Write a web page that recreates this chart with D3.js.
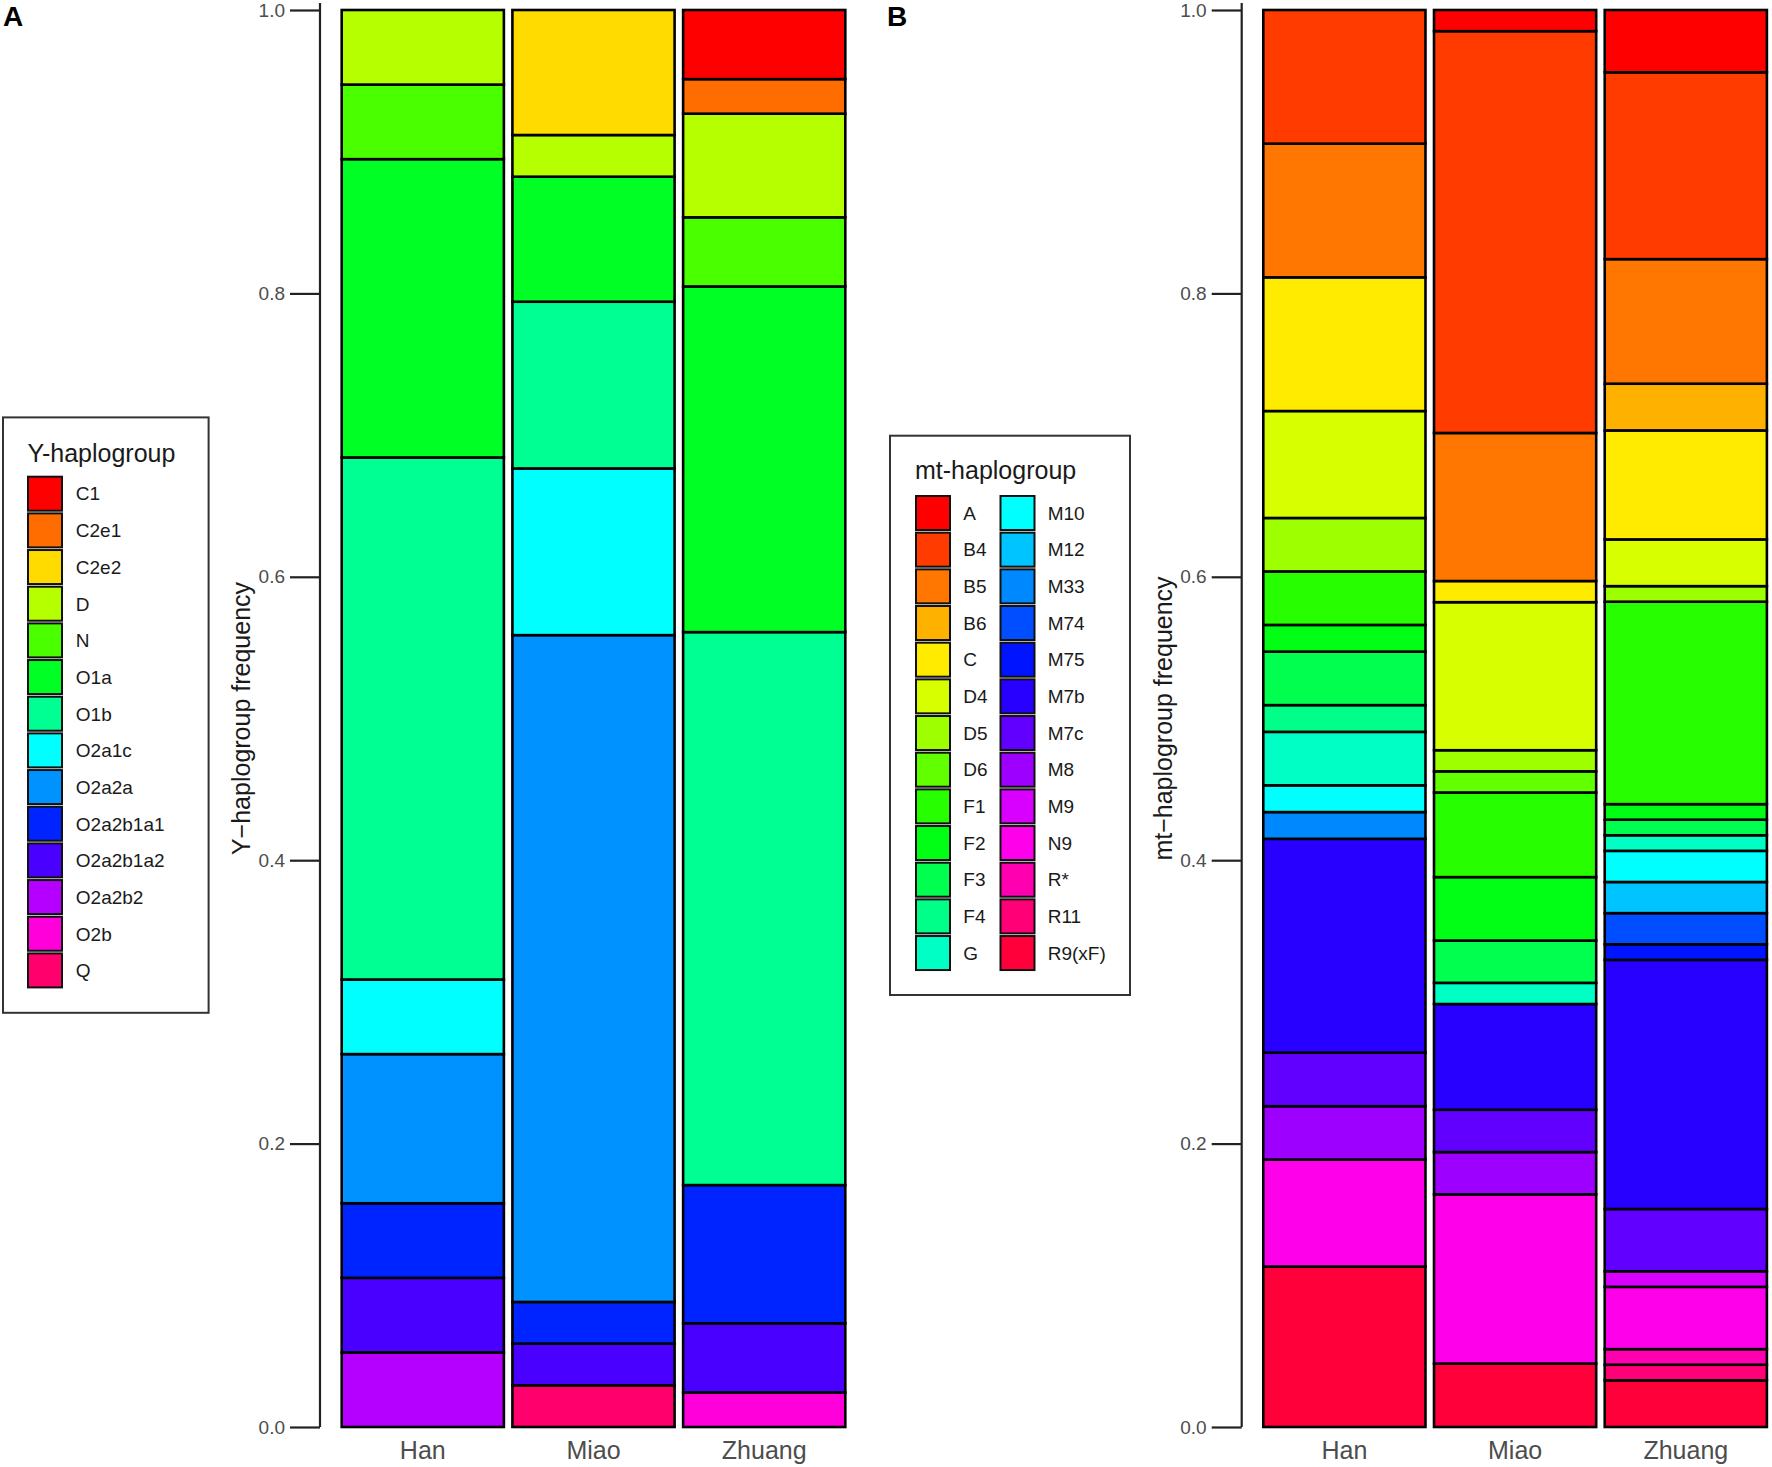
<!DOCTYPE html>
<html>
<head>
<meta charset="utf-8">
<script src="https://cdn.jsdelivr.net/npm/d3@7"></script>
<style>
  html, body { margin: 0; padding: 0; background: #fff; }
  svg { display: block; font-family: "Liberation Sans", Arial, sans-serif; }
</style>
</head>
<body>
<svg id="chart" width="1772" height="1467"></svg>
<script>
// ---------------- DATA ----------------
const populations = ["Han", "Miao", "Zhuang"];

const yGroups = ["C1","C2e1","C2e2","D","N","O1a","O1b","O2a1c","O2a2a","O2a2b1a1","O2a2b1a2","O2a2b2","O2b","Q"];
const yHan    = [0,0,0,1,1,4,7,1,2,1,1,1,0,0];
const yMiao   = [0,0,3,1,0,3,4,4,16,1,1,0,0,1];
const yZhuang = [2,1,0,3,2,10,16,0,0,4,2,0,1,0];

const mtGroups = ["A","B4","B5","B6","C","D4","D5","D6","F1","F2","F3","F4","G",
                  "M10","M12","M33","M74","M75","M7b","M7c","M8","M9","N9","R*","R11","R9(xF)"];
const mtHan    = [0,5,5,0,5,4,2,0,2,1,2,1,2, 1,0,1,0,0,8,2,2,0,4,0,0,6];
const mtMiao   = [1,19,7,0,1,7,1,1,4,3,2,0,1, 0,0,0,0,0,5,2,2,0,8,0,0,3];
const mtZhuang = [4,12,8,3,7,3,1,0,13,1,1,0,1, 2,2,0,2,1,16,4,0,1,4,1,1,3];

const yTicks = [0, 0.2, 0.4, 0.6, 0.8, 1.0];

// ---------------- DRAW ----------------
const svg = d3.select("#chart");
const rainbow = n => d3.range(n).map(i => d3.hsl(i * 360 / n, 1, 0.5).formatHex());

function panel(opts) {
  const { groups, series, axisX, barX0, barX1, title, letter, letterX } = opts;
  const colors = rainbow(groups.length);
  const color = d3.scaleOrdinal().domain(groups).range(colors);

  const rows = populations.map((p, i) => {
    const o = { pop: p };
    groups.forEach((g, j) => o[g] = series[i][j]);
    return o;
  });

  const y = d3.scaleLinear().domain([0, 1]).range([1427, 10]);
  const x = d3.scaleBand().domain(populations).range([barX0, barX1])
    .paddingInner(0.05).paddingOuter(0);

  // stack: first group at top, last at bottom
  const stack = d3.stack().keys(groups.slice().reverse()).offset(d3.stackOffsetExpand);
  const layers = stack(rows);

  const g = svg.append("g");
  layers.forEach(layer => {
    g.selectAll(null)
      .data(layer.filter(d => d[1] - d[0] > 1e-9))
      .join("rect")
      .attr("x", d => x(d.data.pop))
      .attr("width", x.bandwidth())
      .attr("y", d => y(d[1]))
      .attr("height", d => y(d[0]) - y(d[1]))
      .attr("fill", color(layer.key))
      .attr("stroke", "#000")
      .attr("stroke-width", 2.6);
  });

  // y axis
  const ax = svg.append("g")
    .attr("transform", `translate(${axisX},0)`)
    .call(d3.axisLeft(y).tickValues(yTicks).tickFormat(d3.format(".1f"))
      .tickSize(30).tickSizeOuter(0).tickPadding(5));
  ax.select(".domain").remove();
  ax.append("line").attr("x1", 0).attr("x2", 0)
    .attr("y1", y(1) - 7).attr("y2", y(0))
    .attr("stroke", "#222").attr("stroke-width", 2.2);
  ax.selectAll(".tick line").attr("stroke", "#222").attr("stroke-width", 2.2);
  ax.selectAll(".tick text").attr("fill", "#4d4d4d")
    .style("font-size", "19px").style("font-family", "'Liberation Sans', Arial, sans-serif");

  // axis title
  svg.append("text")
    .attr("transform", `translate(${axisX - 70},${y(0.5)}) rotate(-90)`)
    .attr("text-anchor", "middle")
    .attr("fill", "#1a1a1a")
    .style("font-size", "25px")
    .text(title);

  // x labels
  svg.append("g").selectAll("text").data(populations).join("text")
    .attr("x", d => x(d) + x.bandwidth() / 2)
    .attr("y", 1459)
    .attr("text-anchor", "middle")
    .attr("fill", "#4d4d4d")
    .style("font-size", "25px")
    .text(d => d);

  // panel letter
  svg.append("text")
    .attr("x", letterX).attr("y", 26)
    .style("font-size", "28px").style("font-weight", "bold")
    .attr("fill", "#000")
    .text(letter);

  return color;
}

const colY = panel({
  groups: yGroups, series: [yHan, yMiao, yZhuang],
  axisX: 320, barX0: 341.7, barX1: 845.3,
  title: "Y\u2212haplogroup frequency", letter: "A", letterX: 3
});
const colMt = panel({
  groups: mtGroups, series: [mtHan, mtMiao, mtZhuang],
  axisX: 1241.7, barX0: 1263.3, barX1: 1766.9,
  title: "mt\u2212haplogroup frequency", letter: "B", letterX: 887
});

// ---------------- LEGENDS ----------------
function legend(opts) {
  const { groups, color, box, title, titleX, titleY, keyX, labelX, keyY0, perCol } = opts;
  const L = svg.append("g");
  L.append("rect").attr("x", box[0]).attr("y", box[1])
    .attr("width", box[2] - box[0]).attr("height", box[3] - box[1])
    .attr("fill", "#fff").attr("stroke", "#333").attr("stroke-width", 2);
  L.append("text").attr("x", titleX).attr("y", titleY)
    .attr("fill", "#1a1a1a").style("font-size", "25px").text(title);
  const pitch = 36.67;
  const items = L.selectAll("g.item").data(groups).join("g").attr("class", "item")
    .attr("transform", (d, i) => {
      const c = Math.floor(i / perCol), r = i % perCol;
      return `translate(${keyX[c]},${keyY0 + r * pitch})`;
    });
  items.append("rect").attr("width", 34).attr("height", 34)
    .attr("fill", d => color(d)).attr("stroke", "#111").attr("stroke-width", 2);
  items.append("text")
    .attr("x", (d, i) => labelX[Math.floor(i / perCol)] - keyX[Math.floor(i / perCol)])
    .attr("y", 17 + 6.8)
    .attr("fill", "#1a1a1a").style("font-size", "19px")
    .text(d => d);
}

legend({
  groups: yGroups, color: colY, box: [3, 417.4, 208.6, 1012.8],
  title: "Y-haplogroup", titleX: 27.6, titleY: 462,
  keyX: [28], labelX: [75.8], keyY0: 476.7, perCol: 14
});
legend({
  groups: mtGroups, color: colMt, box: [890, 435.7, 1130, 995],
  title: "mt-haplogroup", titleX: 915, titleY: 478.6,
  keyX: [916, 1000.5], labelX: [963.3, 1047.7], keyY0: 496, perCol: 13
});
</script>
</body>
</html>
